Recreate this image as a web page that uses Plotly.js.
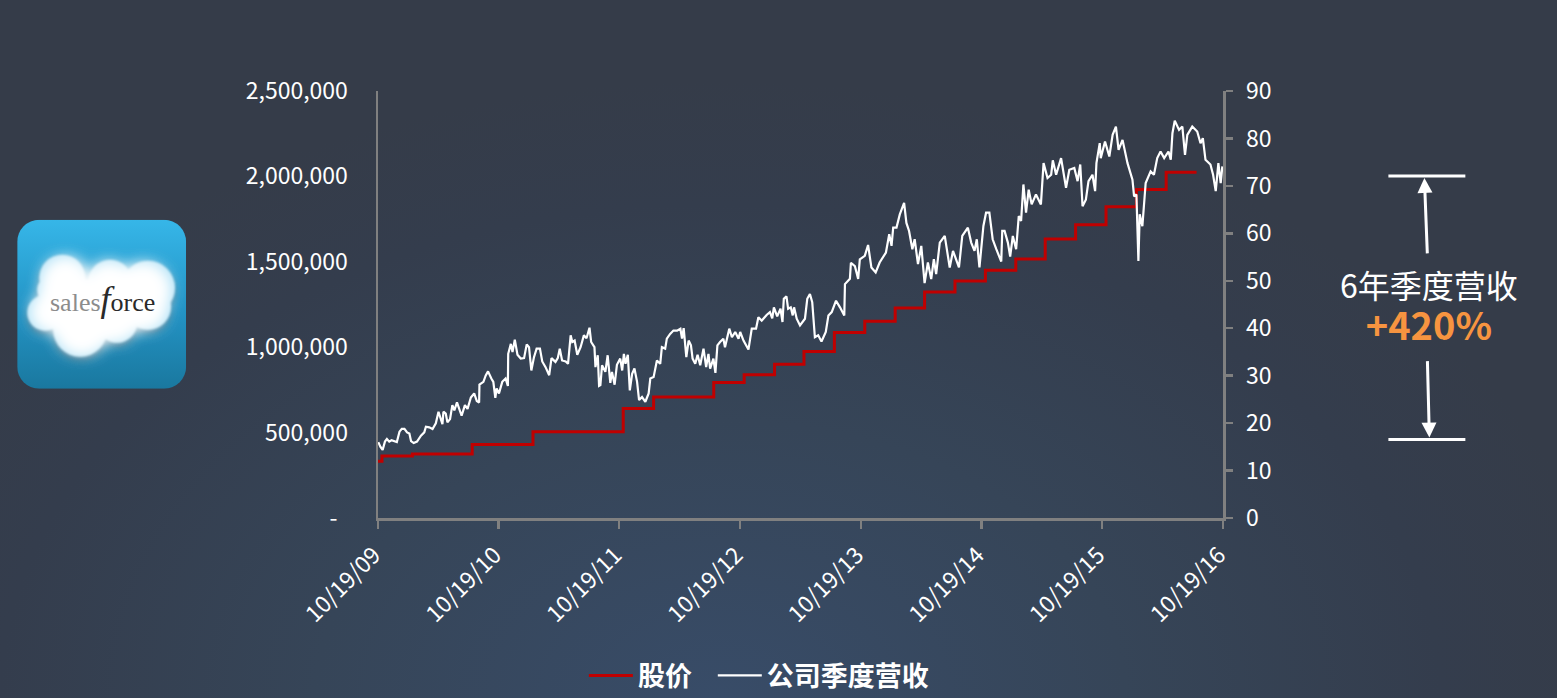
<!DOCTYPE html>
<html>
<head>
<meta charset="utf-8">
<script src="https://cdn.plot.ly/plotly-3.0.1.min.js"></script>
<style>
html,body{margin:0;padding:0;width:1557px;height:698px;overflow:hidden;
background:radial-gradient(ellipse 900px 620px at 720px 700px,#384c68 0%,#364558 45%,#343d4d 80%,#353c49 100%);}
#chart{width:1557px;height:698px;}
</style>
</head>
<body>
<div id="chart"></div>
<script>
const revenueName = '股价';
const stockName = '公司季度营收';
const startDate = '2009-10-19';
const endDate = '2016-10-19';

const revenueDates = ['2009-10-19','2009-10-31','2010-01-31','2010-07-31','2011-01-31','2011-10-31','2012-01-31','2012-07-31','2012-10-31','2013-01-31','2013-04-30','2013-07-31','2013-10-31','2014-01-31','2014-04-30','2014-07-31','2014-10-31','2015-01-31','2015-04-30','2015-07-31','2015-10-31','2016-01-31','2016-04-30','2016-07-31'];
const revenueValues = [332000,363000,375000,430000,505000,641000,708000,794000,839000,900000,975000,1086000,1152000,1230000,1323000,1387000,1451000,1517000,1633000,1717000,1822000,1923000,2024000,2024000];

const stockDays = [1,7,14,21,27,34,41,49,57,65,72,80,88,95,100,108,118,130,140,145,155,165,175,183,188,195,198,205,210,218,225,231,239,246,253,263,271,281,291,299,306,307,319,326,333,343,349,355,359,366,376,386,393,394,402,407,414,422,432,442,450,457,464,472,480,490,497,507,518,525,537,544,550,557,568,575,583,588,595,603,613,623,631,640,645,655,658,665,669,673,678,688,695,703,708,716,723,733,739,744,749,756,762,769,776,784,790,799,809,819,824,834,844,854,859,869,874,884,894,905,915,920,925,933,940,947,952,960,967,975,985,993,1000,1005,1015,1021,1027,1035,1045,1050,1063,1071,1081,1091,1096,1106,1121,1131,1144,1151,1161,1176,1186,1193,1198,1208,1218,1224,1228,1236,1241,1249,1255,1259,1267,
1277,1292,1299,1307,1314,1317,1322,1332,1342,1355,1363,1373,1386,1398,1411,1413,1428,1431,1443,1453,1458,1473,1483,1493,1506,1518,1537,1547,1554,1559,1569,1579,1592,1599,1607,1617,1624,1634,1644,1654,1664,1674,1682,1689,1700,1715,1725,1730,1740,1750,1758,1768,1785,1795,1805,1812,1820,1832,1840,1850,1860,1871,1886,1889,1896,1906,1913,1921,1931,1939,1946,1953,1961,1969,1978,1991,2006,2014,2026,2037,2042,2052,2067,2082,2092,2107,2117,2125,2132,2142,2150,2162,2170,2174,2184,2187,2200,2213,2223,2233,2241,2253,2268,2283,2288,2295,2301,2305,2313,2323,2338,2348,2358,2368,2379,2392,2399,2404,2411,2424,2434,2442,2449,2464,2479,2489,2496,2504,2519,2527,2535,2543,2550,2555];
const stockPrices = [16.0,15.05,14.35,16.1,16.66,16.1,16.4,16.2,16.0,18.2,18.8,18.8,18.05,17.8,16.2,15.8,16.1,17.35,18.05,19.25,19.1,18.75,19.95,22.4,21.35,19.8,22.4,22.0,20.15,20.85,23.8,22.7,24.35,23.1,21.55,23.8,23.0,25.4,26.25,24.65,24.35,28.1,28.7,30.05,30.9,29.4,28.7,25.3,27.3,26.25,28.7,29.4,27.85,34.6,36.7,35.0,37.6,34.4,33.6,33.7,36.6,36.0,31.1,33.9,35.7,35.7,33.0,31.8,30.1,33.7,32.9,33.7,35.7,33.2,33.0,32.5,38.5,37.1,37.4,34.4,36.0,38.5,37.9,40.1,37.1,36.0,31.8,34.3,27.85,28.0,32.2,30.8,34.3,28.5,30.8,28.1,32.3,33.6,31.1,34.6,32.5,34.4,26.9,30.4,31.5,28.7,24.85,25.5,24.5,26.25,29.4,29.7,33.2,32.5,36.0,35.7,37.8,38.8,39.5,39.5,39.9,37.8,40.0,33.9,37.4,36.4,33.6,32.5,34.4,32.2,35.7,31.8,34.6,31.5,33.6,30.6,36.4,37.1,37.8,36.0,39.9,38.1,39.2,37.8,39.2,37.4,35.5,39.9,39.9,42.3,41.6,42.8,43.4,42.1,44.4,42.5,44.1,41.3,46.2,46.7,44.1,44.4,42.7,44.4,42.0,
40.6,42.0,46.2,47.2,45.5,42.0,38.1,38.5,37.2,39.2,42.7,43.4,45.8,44.4,42.7,49.3,50.4,53.8,53.1,50.4,54.5,55.25,57.55,52.8,51.75,53.85,55.95,59.8,57.35,61.2,61.2,64.0,66.4,62.2,60.5,56.65,58.75,53.5,57.35,49.5,53.85,50.35,54.55,51.4,58.05,59.45,55.25,52.8,56.3,54.55,52.8,59.45,61.2,58.05,56.3,58.75,52.8,61.55,64.35,64.35,58.75,56.65,54.05,60.5,60.5,58.05,55.1,59.45,56.65,63.65,62.6,70.3,64.35,69.2,66.1,68.2,66.1,74.8,71.65,72.35,75.4,72.35,75.85,69.6,73.4,73.8,71.0,74.5,65.7,67.1,71.0,72.35,68.9,74.8,79.0,75.85,79.35,76.2,80.75,82.5,77.6,79.7,74.8,71.3,67.8,68.2,54.2,64.0,61.5,70.6,73.05,72.35,75.85,77.25,75.85,77.25,75.5,81.1,83.75,81.8,82.5,76.55,80.75,82.5,81.45,79.0,80.05,75.5,74.5,72.35,68.9,74.8,70.6,74.1];

const xTickVals = ['2009-10-19','2010-10-19','2011-10-19','2012-10-19','2013-10-19','2014-10-19','2015-10-19','2016-10-19'];
const xTickText = ['10/19/09','10/19/10','10/19/11','10/19/12','10/19/13','10/19/14','10/19/15','10/19/16'];
const leftTickVals = [0,500000,1000000,1500000,2000000,2500000];
const leftTickText = ['-\u00a0\u00a0','500,000','1,000,000','1,500,000','2,000,000','2,500,000'];
const rightTickVals = [0,10,20,30,40,50,60,70,80,90];

const sideLabel = '6年季度营收';
const sideValue = '+420%';

const FONT = '"Noto Sans CJK SC","Open Sans",sans-serif';
const AXIS = '#808080';
const PL = 378, PR = 1223.5, PT = 91, PB = 518.5;
const px = x => (x - PL) / (PR - PL);
const py = y => (PB - y) / (PB - PT);
const base = Date.parse(startDate + 'T00:00:00Z');
const stockDates = stockDays.map(d => new Date(base + d * 864e5).toISOString().slice(0, 10));

const logoSvg = `<svg xmlns="http://www.w3.org/2000/svg" width="169" height="169" viewBox="0 0 169 169">
<defs>
<linearGradient id="g" x1="0" y1="0" x2="0" y2="1"><stop offset="0" stop-color="#36b6e8"/><stop offset="0.55" stop-color="#2393c4"/><stop offset="1" stop-color="#1a789f"/></linearGradient>
<filter id="b0" x="-20%" y="-20%" width="140%" height="140%"><feGaussianBlur stdDeviation="1.2"/></filter>
<filter id="b1" x="-20%" y="-20%" width="140%" height="140%"><feGaussianBlur stdDeviation="3"/></filter>
<filter id="b2" x="-30%" y="-30%" width="160%" height="160%"><feGaussianBlur stdDeviation="9"/></filter>
<g id="c"><circle cx="45" cy="58" r="23"/><circle cx="93" cy="62" r="22"/><circle cx="131" cy="68" r="27"/><circle cx="28" cy="93" r="18"/><circle cx="63" cy="110" r="27"/><circle cx="100" cy="103" r="20"/><circle cx="131" cy="87" r="23"/><circle cx="33" cy="70" r="13"/><rect x="35" y="60" width="95" height="45"/></g>
</defs>
<rect width="169" height="169" rx="22" fill="url(#g)"/>
<use href="#c" fill="#0d4a68" opacity="0.6" filter="url(#b1)" transform="translate(0,4)"/>
<use href="#c" fill="#b4e3f7" filter="url(#b0)"/>
<use href="#c" fill="#ffffff" filter="url(#b2)" transform="translate(8,9) scale(0.9)"/>
<use href="#c" fill="#ffffff" filter="url(#b2)" transform="translate(8,9) scale(0.9)"/>
</svg>`;

const traces = [
  {x: revenueDates, y: revenueValues, name: revenueName, type: 'scatter', mode: 'lines',
   line: {color: '#c00000', width: 3, shape: 'hv'}, yaxis: 'y', legend: 'legend', hoverinfo: 'skip'},
  {x: stockDates, y: stockPrices, name: stockName, type: 'scatter', mode: 'lines',
   line: {color: '#ffffff', width: 2.2}, yaxis: 'y2', legend: 'legend2', hoverinfo: 'skip'}
];

const legendStyle = (x) => ({orientation: 'h', x: px(x), y: py(652), xanchor: 'left', yanchor: 'top', itemwidth: 44,
  bgcolor: 'rgba(0,0,0,0)', font: {family: FONT, size: 27, color: '#ffffff', weight: 700}, itemclick: false});

const bracket = y => ({type: 'line', xref: 'paper', yref: 'paper', x0: px(1389), x1: px(1466), y0: py(y), y1: py(y),
  line: {color: '#ffffff', width: 3}});
const arrow = (hx, hy, tx, ty) => ({xref: 'paper', yref: 'paper', x: px(hx), y: py(hy), axref: 'pixel', ayref: 'pixel',
  ax: tx - hx, ay: ty - hy, text: '', showarrow: true, arrowhead: 2, arrowsize: 1, arrowwidth: 3, arrowcolor: '#ffffff', standoff: 0});
const label = (x, y, text, size, color, weight, family) => ({xref: 'paper', yref: 'paper', x: px(x), y: py(y), text, showarrow: false,
  xanchor: 'center', yanchor: 'middle', font: {family: family || FONT, size, color, weight: weight || 400}});

const layout = {
  width: 1557, height: 698,
  margin: {l: PL, r: 1557 - PR, t: PT, b: 698 - PB, pad: 0, autoexpand: false},
  paper_bgcolor: 'rgba(0,0,0,0)', plot_bgcolor: 'rgba(0,0,0,0)',
  font: {family: FONT, color: '#ffffff', size: 23},
  showlegend: true,
  legend: legendStyle(584),
  legend2: legendStyle(713),
  xaxis: {type: 'date', range: [startDate, endDate], tickmode: 'array', tickvals: xTickVals, ticktext: xTickText,
    tickangle: -45, showgrid: false, zeroline: false, showline: true, linecolor: AXIS, linewidth: 2.5,
    ticks: 'outside', ticklen: 8, tickwidth: 2.5, tickcolor: AXIS, ticklabelshift: -4, ticklabelstandoff: 4, tickfont: {size: 23, color: '#ffffff'}},
  yaxis: {range: [0, 2500000], tickmode: 'array', tickvals: leftTickVals, ticktext: leftTickText,
    showgrid: false, zeroline: false, showline: true, linecolor: AXIS, linewidth: 2.5, ticks: '',
    ticklabelstandoff: 23, tickfont: {size: 23, color: '#ffffff'}},
  yaxis2: {range: [0, 90], overlaying: 'y', side: 'right', tickmode: 'array', tickvals: rightTickVals, ticktext: rightTickVals.map(String),
    showgrid: false, zeroline: false, showline: true, linecolor: AXIS, linewidth: 2.5,
    ticks: 'outside', ticklen: 7, tickwidth: 2.5, tickcolor: AXIS, ticklabelstandoff: 9, tickfont: {size: 23, color: '#ffffff'}},
  images: [{source: 'data:image/svg+xml;charset=utf-8,' + encodeURIComponent(logoSvg), xref: 'paper', yref: 'paper',
    x: px(17), y: py(220), sizex: 169 / (PR - PL), sizey: 169 / (PB - PT), xanchor: 'left', yanchor: 'top', sizing: 'stretch', layer: 'below'}],
  shapes: [bracket(176), bracket(440)],
  annotations: [
    arrow(1425, 178, 1428, 255),
    arrow(1430, 438, 1428, 360),
    label(1430, 306, sideLabel + '<br><b><span style="color:#f79440;font-size:38px">' + sideValue + '</span></b>', 32, '#ffffff'),
    label(102, 299, '<span style="color:#8c8c8c">sales</span><i><span style="font-size:36px">f</span></i>orce', 26, '#2a2a2a', 400, '"Liberation Serif",serif')
  ]
};

Plotly.newPlot('chart', traces, layout, {displayModeBar: false, staticPlot: true});
</script>
</body>
</html>
